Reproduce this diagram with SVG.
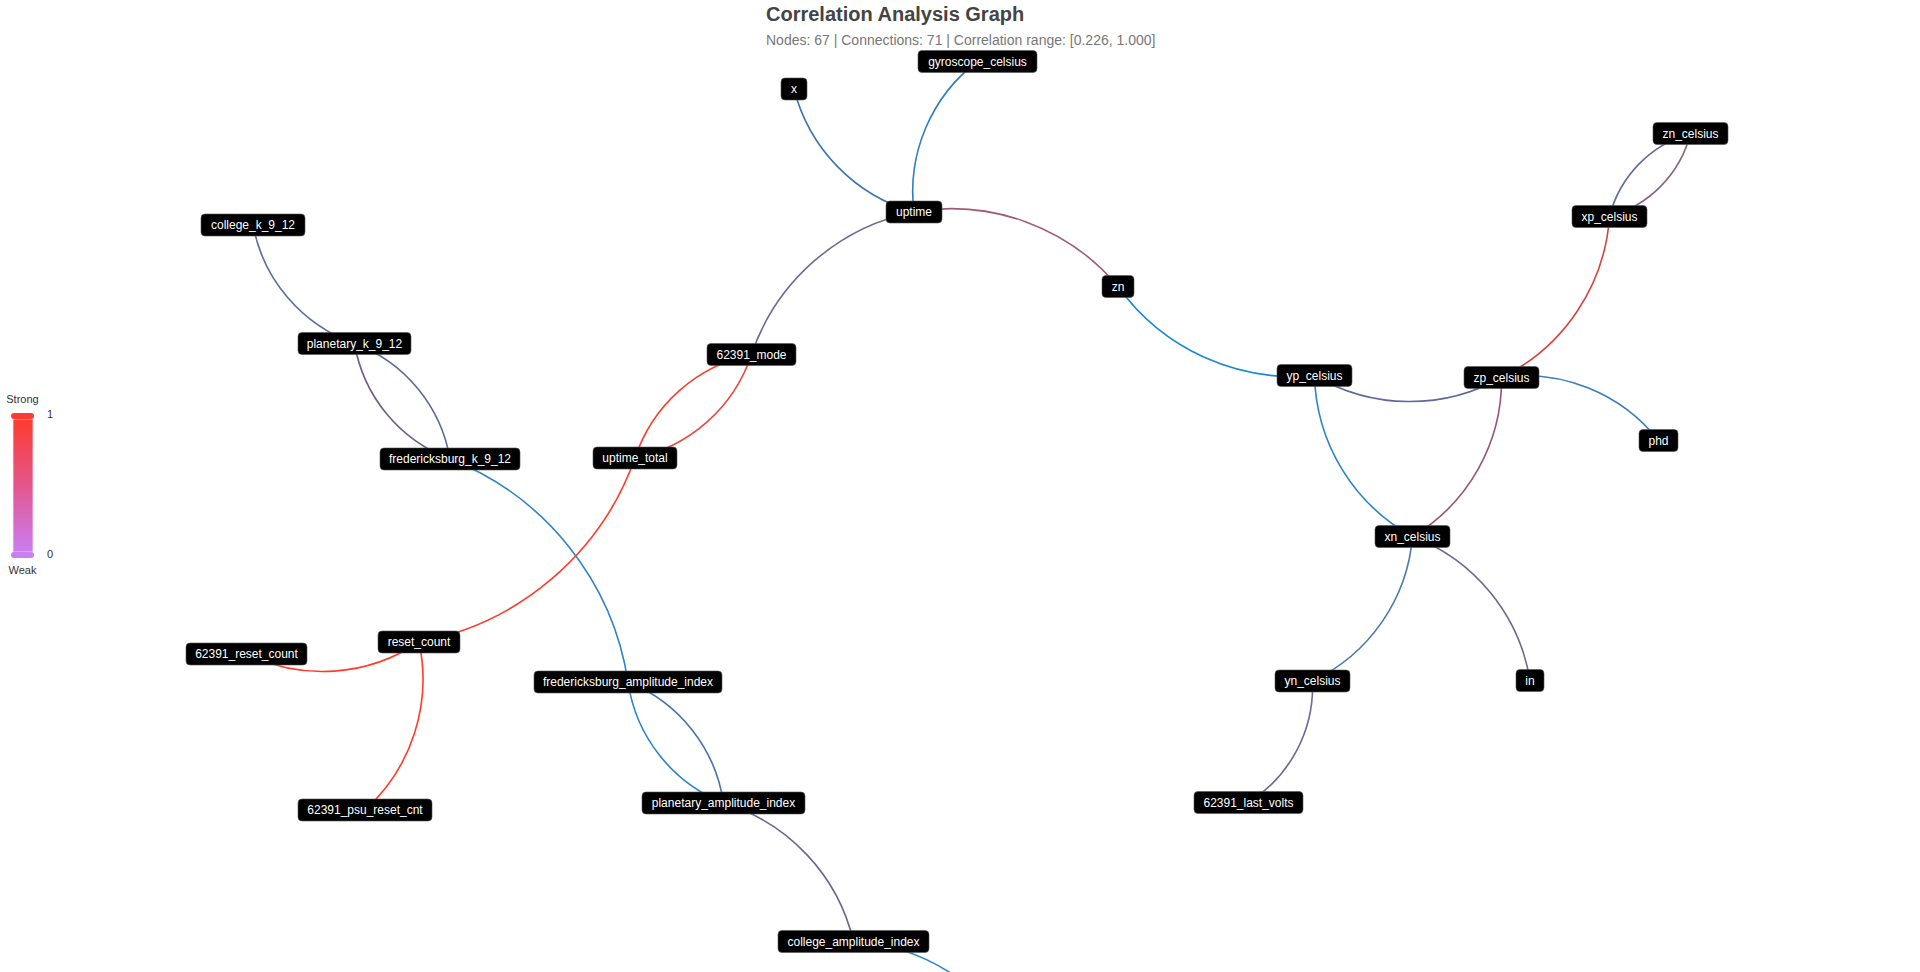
<svg xmlns="http://www.w3.org/2000/svg" width="1920" height="972" viewBox="0 0 1920 972">
<defs>
<linearGradient id="legendGrad" x1="0" y1="0" x2="0" y2="1">
<stop offset="0" stop-color="#ff3b2f"/>
<stop offset="0.5" stop-color="#e3568c"/>
<stop offset="1" stop-color="#c97ef2"/>
</linearGradient>
<style>
.title{font-family:"Liberation Sans",Arial,sans-serif;font-size:20px;font-weight:bold;fill:#444}
.sub{font-family:"Liberation Sans",Arial,sans-serif;font-size:14px;fill:#777}
.leg{font-family:"Liberation Sans",Arial,sans-serif;font-size:11px;fill:#333}
.edge{fill:none;stroke-width:1.6;stroke-linecap:round}
.node rect{fill:#000;stroke:#555;stroke-width:0.6}
.node text{font-family:"Liberation Sans",Arial,sans-serif;font-size:12px;fill:#fff;text-anchor:middle}
</style>
</defs>
<rect width="1920" height="972" fill="#fff"/>
<text class="title" x="766" y="21">Correlation Analysis Graph</text>
<text class="sub" x="766" y="45">Nodes: 67 | Connections: 71 | Correlation range: [0.226, 1.000]</text>

<g id="legend">
<text class="leg" x="22.5" y="403" text-anchor="middle">Strong</text>
<rect x="13" y="419" width="20" height="133" fill="url(#legendGrad)" stroke="#f3e6f3" stroke-width="0.8"/>
<rect x="11" y="413" width="23" height="6" rx="3" fill="#ff3b2f"/>
<rect x="11" y="552" width="23" height="6" rx="3" fill="#c97ef2"/>
<text class="leg" x="47" y="418">1</text>
<text class="leg" x="47" y="558">0</text>
<text class="leg" x="22.5" y="574" text-anchor="middle">Weak</text>
</g>

<g id="connectors">
<path class="edge" stroke="#3d74ad" d="M794,89 A171.8,171.8 0 0,0 914,212"/>
<path class="edge" stroke="#2f7fc0" d="M914,212 A163.3,163.3 0 0,1 977.5,61.5"/>
<path class="edge" stroke="#a35a78" d="M914,212 A217.2,217.2 0 0,1 1118,286.5"/>
<path class="edge" stroke="#6e6a96" d="M751.5,354.5 A216.1,216.1 0 0,1 914,212"/>
<path class="edge" stroke="#e84a40" d="M751.5,354.5 A155.8,155.8 0 0,1 635,458"/>
<path class="edge" stroke="#f5402f" d="M635,458 A155.8,155.8 0 0,1 751.5,354.5"/>
<path class="edge" stroke="#ff3b2a" d="M635,458 A283.7,283.7 0 0,1 419,642"/>
<path class="edge" stroke="#ff3b2a" d="M419,642 A172.9,172.9 0 0,1 246.5,654"/>
<path class="edge" stroke="#ff3b2a" d="M419,642 A176.5,176.5 0 0,1 365,810"/>
<path class="edge" stroke="#2f82c4" d="M450,459 A285.3,285.3 0 0,1 628,682"/>
<path class="edge" stroke="#5a6ea2" d="M354.5,343.5 A156,156 0 0,1 253,225"/>
<path class="edge" stroke="#5c6a9c" d="M354.5,343.5 A149.9,149.9 0 0,1 450,459"/>
<path class="edge" stroke="#6e5f88" d="M450,459 A149.9,149.9 0 0,1 354.5,343.5"/>
<path class="edge" stroke="#4a72ac" d="M628,682 A154.1,154.1 0 0,1 723.5,803"/>
<path class="edge" stroke="#2a84cc" d="M723.5,803 A154.1,154.1 0 0,1 628,682"/>
<path class="edge" stroke="#6c6590" d="M723.5,803 A190,190 0 0,1 853.5,941.5"/>
<path class="edge" stroke="#2a86cc" d="M853.5,941.5 A198.7,198.7 0 0,1 1020,1050"/>
<path class="edge" stroke="#1a8ad6" d="M1314.5,375.5 A215.7,215.7 0 0,1 1118,286.5"/>
<path class="edge" stroke="#5c689c" d="M1501.5,377.5 A187,187 0 0,1 1314.5,375.5"/>
<path class="edge" stroke="#2a84c8" d="M1412.5,536.5 A188.5,188.5 0 0,1 1314.5,375.5"/>
<path class="edge" stroke="#9a5474" d="M1501.5,377.5 A182.2,182.2 0 0,1 1412.5,536.5"/>
<path class="edge" stroke="#d6443e" d="M1609.5,216.5 A193.9,193.9 0 0,1 1501.5,377.5"/>
<path class="edge" stroke="#626a9c" d="M1609.5,216.5 A116,116 0 0,1 1690.5,133.5"/>
<path class="edge" stroke="#8a6282" d="M1690.5,133.5 A116,116 0 0,1 1609.5,216.5"/>
<path class="edge" stroke="#3a7ec0" d="M1501.5,377.5 A169.2,169.2 0 0,1 1658.5,440.5"/>
<path class="edge" stroke="#4a78b0" d="M1412.5,536.5 A175.7,175.7 0 0,1 1312.5,681"/>
<path class="edge" stroke="#6c6890" d="M1412.5,536.5 A185.9,185.9 0 0,1 1530,680.5"/>
<path class="edge" stroke="#6c6a98" d="M1312.5,681 A137.3,137.3 0 0,1 1248.5,802.5"/>
</g>

<g id="node-x" class="node"><rect x="781" y="78" width="26" height="22" rx="4"/><text x="794" y="93">x</text></g>
<g id="node-gyroscope_celsius" class="node"><rect x="918" y="50.5" width="119" height="22" rx="4"/><text x="977.5" y="65.5">gyroscope_celsius</text></g>
<g id="node-uptime" class="node"><rect x="886" y="201" width="56" height="22" rx="4"/><text x="914" y="216">uptime</text></g>
<g id="node-college_k_9_12" class="node"><rect x="201" y="214" width="104" height="22" rx="4"/><text x="253" y="229">college_k_9_12</text></g>
<g id="node-planetary_k_9_12" class="node"><rect x="298" y="332.5" width="113" height="22" rx="4"/><text x="354.5" y="347.5">planetary_k_9_12</text></g>
<g id="node-fredericksburg_k_9_12" class="node"><rect x="380" y="448" width="140" height="22" rx="4"/><text x="450" y="463">fredericksburg_k_9_12</text></g>
<g id="node-62391_mode" class="node"><rect x="707" y="343.5" width="89" height="22" rx="4"/><text x="751.5" y="358.5">62391_mode</text></g>
<g id="node-uptime_total" class="node"><rect x="593" y="447" width="84" height="22" rx="4"/><text x="635" y="462">uptime_total</text></g>
<g id="node-reset_count" class="node"><rect x="378" y="631" width="82" height="22" rx="4"/><text x="419" y="646">reset_count</text></g>
<g id="node-62391_reset_count" class="node"><rect x="186" y="643" width="121" height="22" rx="4"/><text x="246.5" y="658">62391_reset_count</text></g>
<g id="node-62391_psu_reset_cnt" class="node"><rect x="298" y="799" width="134" height="22" rx="4"/><text x="365" y="814">62391_psu_reset_cnt</text></g>
<g id="node-fredericksburg_amplitude_index" class="node"><rect x="534" y="671" width="188" height="22" rx="4"/><text x="628" y="686">fredericksburg_amplitude_index</text></g>
<g id="node-planetary_amplitude_index" class="node"><rect x="642" y="792" width="163" height="22" rx="4"/><text x="723.5" y="807">planetary_amplitude_index</text></g>
<g id="node-college_amplitude_index" class="node"><rect x="778" y="930.5" width="151" height="22" rx="4"/><text x="853.5" y="945.5">college_amplitude_index</text></g>
<g id="node-zn" class="node"><rect x="1102" y="275.5" width="32" height="22" rx="4"/><text x="1118" y="290.5">zn</text></g>
<g id="node-yp_celsius" class="node"><rect x="1277" y="364.5" width="75" height="22" rx="4"/><text x="1314.5" y="379.5">yp_celsius</text></g>
<g id="node-zp_celsius" class="node"><rect x="1464" y="366.5" width="75" height="22" rx="4"/><text x="1501.5" y="381.5">zp_celsius</text></g>
<g id="node-xp_celsius" class="node"><rect x="1572" y="205.5" width="75" height="22" rx="4"/><text x="1609.5" y="220.5">xp_celsius</text></g>
<g id="node-zn_celsius" class="node"><rect x="1653" y="122.5" width="75" height="22" rx="4"/><text x="1690.5" y="137.5">zn_celsius</text></g>
<g id="node-phd" class="node"><rect x="1639" y="429.5" width="39" height="22" rx="4"/><text x="1658.5" y="444.5">phd</text></g>
<g id="node-xn_celsius" class="node"><rect x="1375" y="525.5" width="75" height="22" rx="4"/><text x="1412.5" y="540.5">xn_celsius</text></g>
<g id="node-yn_celsius" class="node"><rect x="1275" y="670" width="75" height="22" rx="4"/><text x="1312.5" y="685">yn_celsius</text></g>
<g id="node-in" class="node"><rect x="1516" y="669.5" width="28" height="22" rx="4"/><text x="1530" y="684.5">in</text></g>
<g id="node-62391_last_volts" class="node"><rect x="1194" y="791.5" width="109" height="22" rx="4"/><text x="1248.5" y="806.5">62391_last_volts</text></g>
</svg>
